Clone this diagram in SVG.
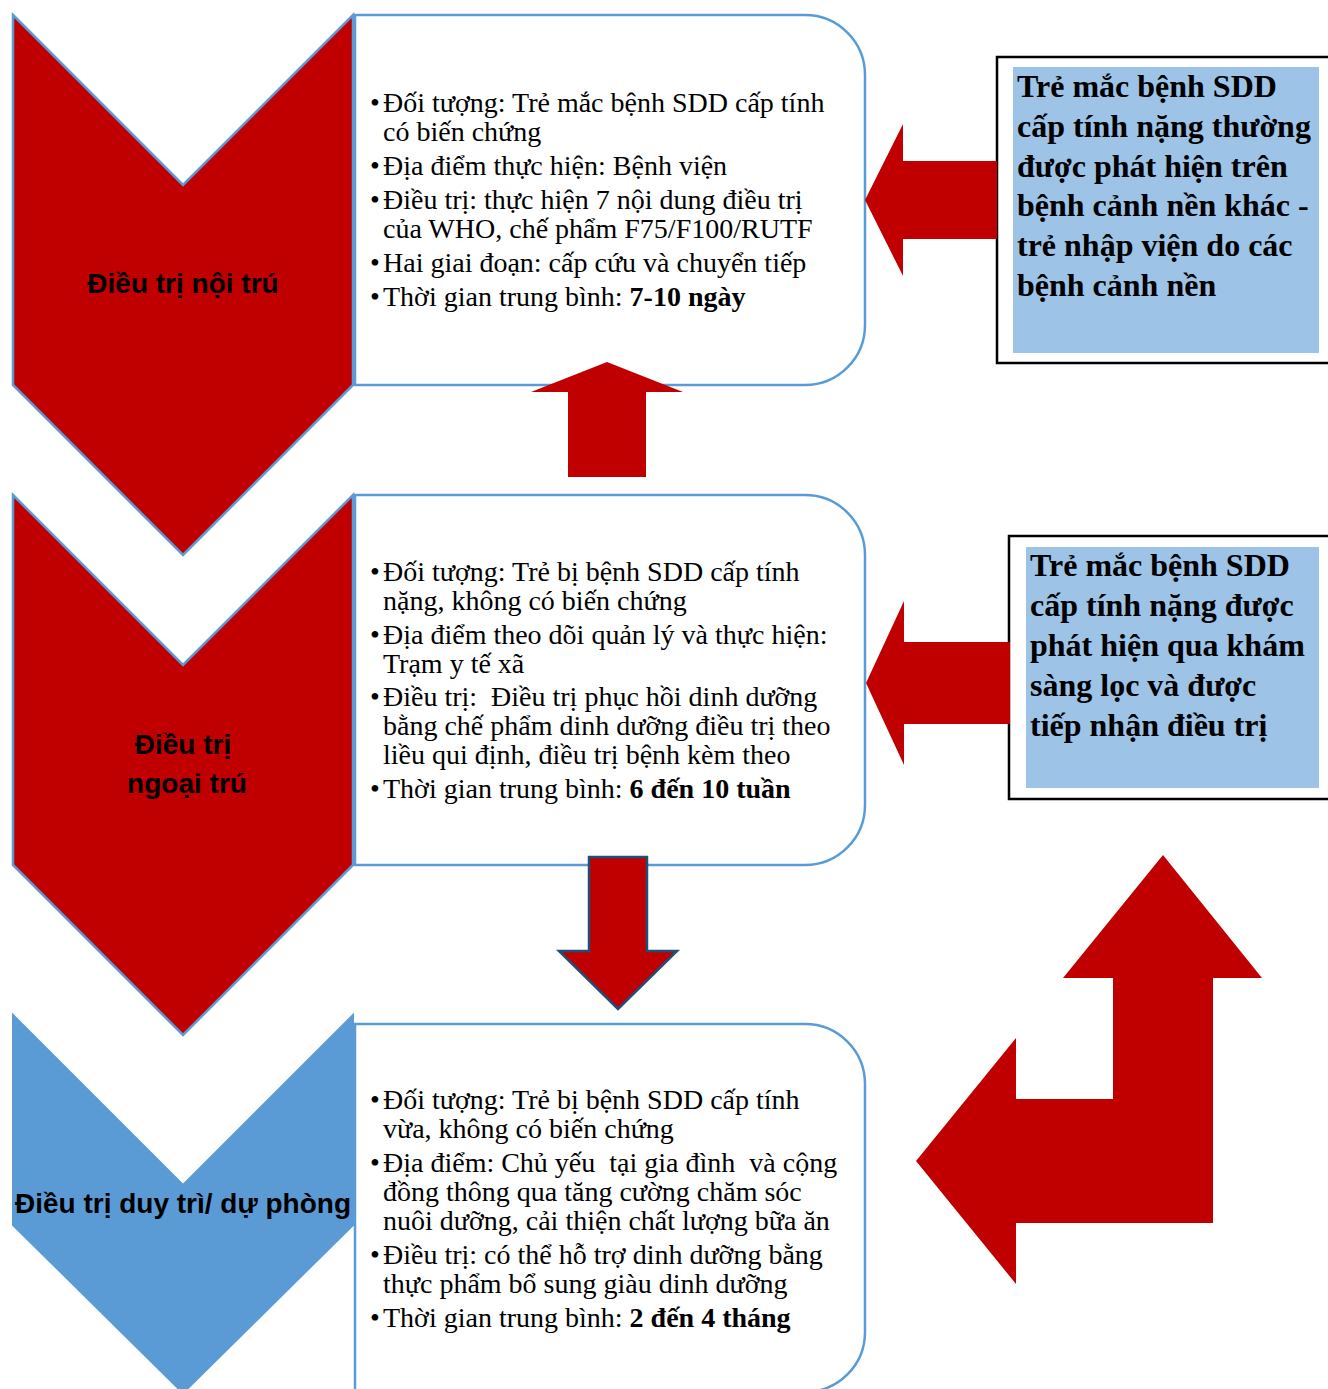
<svg xmlns="http://www.w3.org/2000/svg" width="1328" height="1389" viewBox="0 0 1328 1389">
<style>
.box{fill:#FFFFFF;stroke:#5B9BD5;stroke-width:2.5}
.chevR{fill:#C00000;stroke:#5B9BD5;stroke-width:2.5}
.chevB{fill:#5B9BD5;stroke:#5B9BD5;stroke-width:2}
.lbl{font-family:"Liberation Sans",Arial,sans-serif;font-weight:bold;font-size:28px;fill:#000;text-anchor:middle}
.body{font-family:"Liberation Serif","Times New Roman",serif;font-size:28px;fill:#000;white-space:pre}
.side{font-family:"Liberation Serif","Times New Roman",serif;font-size:32px;font-weight:bold;fill:#000}
.outer{fill:#FFFFFF;stroke:#000;stroke-width:2.5}
.inner{fill:#9DC3E6}
.arr{fill:#C00000}
.arrD{fill:#C00000;stroke:#1F4E79;stroke-width:2.5}
</style>

<g id="box1">
<path class="box" d="M355,15 H805 A60,60 0 0 1 865,75 V325 A60,60 0 0 1 805,385 H355 Z"/>
<text class="body"><tspan x="370" y="112">•</tspan><tspan x="383" y="112">Đối tượng: Trẻ mắc bệnh SDD cấp tính</tspan><tspan x="383" y="141">có biến chứng</tspan><tspan x="370" y="175">•</tspan><tspan x="383" y="175">Địa điểm thực hiện: Bệnh viện</tspan><tspan x="370" y="209">•</tspan><tspan x="383" y="209">Điều trị: thực hiện 7 nội dung điều trị</tspan><tspan x="383" y="238">của WHO, chế phẩm F75/F100/RUTF</tspan><tspan x="370" y="272">•</tspan><tspan x="383" y="272">Hai giai đoạn: cấp cứu và chuyển tiếp</tspan><tspan x="370" y="306">•</tspan><tspan x="383" y="306">Thời gian trung bình: </tspan><tspan font-weight="bold">7-10 ngày</tspan></text>
</g>

<g id="box2">
<path class="box" d="M355,495 H805 A60,60 0 0 1 865,555 V805 A60,60 0 0 1 805,865 H355 Z"/>
<text class="body"><tspan x="370" y="581">•</tspan><tspan x="383" y="581">Đối tượng: Trẻ bị bệnh SDD cấp tính</tspan><tspan x="383" y="610">nặng, không có biến chứng</tspan><tspan x="370" y="644">•</tspan><tspan x="383" y="644">Địa điểm theo dõi quản lý và thực hiện:</tspan><tspan x="383" y="673">Trạm y tế xã</tspan><tspan x="370" y="706">•</tspan><tspan x="383" y="706">Điều trị:  Điều trị phục hồi dinh dưỡng</tspan><tspan x="383" y="735">bằng chế phẩm dinh dưỡng điều trị theo</tspan><tspan x="383" y="764">liều qui định, điều trị bệnh kèm theo</tspan><tspan x="370" y="798">•</tspan><tspan x="383" y="798">Thời gian trung bình: </tspan><tspan font-weight="bold">6 đến 10 tuần</tspan></text>
</g>

<g id="box3">
<path class="box" d="M355,1024 H805 A60,60 0 0 1 865,1084 V1332 A60,60 0 0 1 805,1392 H355 Z"/>
<text class="body"><tspan x="370" y="1109">•</tspan><tspan x="383" y="1109">Đối tượng: Trẻ bị bệnh SDD cấp tính</tspan><tspan x="383" y="1138">vừa, không có biến chứng</tspan><tspan x="370" y="1172">•</tspan><tspan x="383" y="1172">Địa điểm: Chủ yếu  tại gia đình  và cộng</tspan><tspan x="383" y="1201">đồng thông qua tăng cường chăm sóc</tspan><tspan x="383" y="1230">nuôi dưỡng, cải thiện chất lượng bữa ăn</tspan><tspan x="370" y="1264">•</tspan><tspan x="383" y="1264">Điều trị: có thể hỗ trợ dinh dưỡng bằng</tspan><tspan x="383" y="1293">thực phẩm bổ sung giàu dinh dưỡng</tspan><tspan x="370" y="1327">•</tspan><tspan x="383" y="1327">Thời gian trung bình: </tspan><tspan font-weight="bold">2 đến 4 tháng</tspan></text>
</g>

<g id="chevron1">
<polygon class="chevR" points="13,15 183,185 353,15 353,385 183,555 13,385"/>
<text class="lbl" x="183" y="293">Điều trị nội trú</text>
</g>

<g id="chevron2">
<polygon class="chevR" points="13,495 183,665 353,495 353,865 183,1035 13,865"/>
<text class="lbl" x="183" y="754">Điều trị</text>
<text class="lbl" x="187" y="793">ngoại trú</text>
</g>

<g id="chevron3">
<polygon class="chevB" points="13,1015 183,1185 353,1015 353,1225 183,1393 13,1225"/>
<text class="lbl" x="183" y="1213">Điều trị duy trì/ dự phòng</text>
</g>

<g id="side1">
<rect class="outer" x="997" y="57" width="345" height="306"/>
<rect class="inner" x="1013" y="67" width="306" height="286"/>
<text class="side"><tspan x="1017" y="97">Trẻ mắc bệnh SDD</tspan><tspan x="1017" y="137">cấp tính nặng thường</tspan><tspan x="1017" y="177">được phát hiện trên</tspan><tspan x="1017" y="216">bệnh cảnh nền khác -</tspan><tspan x="1017" y="256">trẻ nhập viện do các</tspan><tspan x="1017" y="296">bệnh cảnh nền</tspan></text>
</g>

<g id="side2">
<rect class="outer" x="1009" y="536" width="335" height="263"/>
<rect class="inner" x="1026" y="547" width="293" height="241"/>
<text class="side"><tspan x="1030" y="576">Trẻ mắc bệnh SDD</tspan><tspan x="1030" y="616">cấp tính nặng được</tspan><tspan x="1030" y="656">phát hiện qua khám</tspan><tspan x="1030" y="696">sàng lọc và được</tspan><tspan x="1030" y="736">tiếp nhận điều trị</tspan></text>
</g>

<g id="connectors">
<polygon class="arr" points="865,200 903,124 903,161 997,161 997,239 903,239 903,276"/>
<polygon class="arr" points="866,683 904,601 904,642 1010,642 1010,724 904,724 904,765"/>
<polygon class="arr" points="607,362 683,392 646,392 646,477 568,477 568,392 531,392"/>
<polygon class="arrD" points="589,857 647,857 647,951 677,951 618,1009 559,951 589,951"/>
<polygon class="arr" points="1163,855 1262,978 1213,978 1213,1223 1016,1223 1016,1284 916,1161 1016,1038 1016,1099 1113,1099 1113,978 1063,978"/>
</g>
</svg>
